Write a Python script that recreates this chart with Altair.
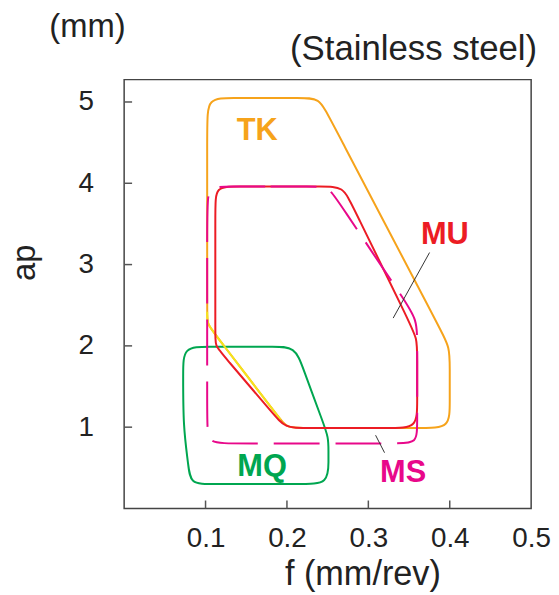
import altair as alt
import pandas as pd

FONT = "Liberation Sans"

# ---- axes ----
X_TICKS = [0.1, 0.2, 0.3, 0.4, 0.5]
Y_TICKS = [1, 2, 3, 4, 5]
X_INNER_TICKS = [0.1, 0.2, 0.3, 0.4]

# ---- outlines (corner vertices with points where the rounding starts/ends) ----
TK_F = [0.17, 0.216, 0.240, 0.251, 0.3887, 0.400, 0.400, 0.400, 0.400, 0.370,
        0.222, 0.200, 0.192, 0.110, 0.102, 0.102, 0.102, 0.102, 0.134, 0.17]
TK_AP = [5.05, 5.05, 5.05, 4.83, 2.20, 1.98, 1.74, 1.30, 0.99, 0.99,
         0.99, 0.99, 1.094, 2.166, 2.27, 2.40, 4.73, 5.05, 5.05, 5.05]

TKY_F = [0.192, 0.110, 0.102, 0.102, 0.102]
TKY_AP = [1.094, 2.166, 2.27, 2.40, 2.42]

MU_F = [0.19, 0.245, 0.269, 0.2797, 0.3504, 0.360, 0.360, 0.360, 0.360, 0.330,
        0.220, 0.198, 0.1837, 0.121, 0.112, 0.112, 0.112, 0.112, 0.138, 0.19]
MU_AP = [3.96, 3.96, 3.96, 3.74, 2.29, 2.09, 1.87, 1.30, 0.99, 0.99,
         0.99, 0.99, 1.157, 1.895, 2.00, 2.12, 3.70, 3.96, 3.96, 3.96]

MS_F = [0.18, 0.229, 0.251, 0.263, 0.343, 0.360, 0.360, 0.360, 0.360, 0.336,
        0.129, 0.102, 0.102, 0.102, 0.102, 0.131, 0.18]
MS_AP = [3.96, 3.96, 3.96, 3.777, 2.58, 2.325, 2.02, 1.04, 0.80, 0.80,
         0.80, 0.80, 1.07, 3.67, 3.96, 3.96, 3.96]

MQ_F = [0.15, 0.183, 0.210, 0.2193, 0.2442, 0.251, 0.251, 0.251, 0.251, 0.220,
        0.1054, 0.081, 0.0789, 0.0725, 0.0725, 0.0725, 0.103, 0.15]
MQ_AP = [1.99, 1.99, 1.99, 1.74, 1.06, 0.88, 0.69, 0.605, 0.30, 0.30,
         0.30, 0.30, 0.544, 1.00, 1.68, 1.99, 1.99, 1.99]

# ---- leader lines ----
LEAD_F = [0.3752, 0.3089]
LEAD_AP = [3.148, 0.901]
LEAD_F2 = [0.3305, 0.3199]
LEAD_AP2 = [2.342, 0.686]

# ---- labels ----
LABELS = ["TK", "MU", "MQ", "MS"]
LABEL_F = [0.1634, 0.394, 0.1695, 0.3427]
LABEL_AP = [4.532, 3.25, 0.40, 0.327]
LABEL_COLORS = ["#F6A31B", "#EC1C24", "#00A650", "#E8088A"]

W, H = 410, 432
xs = alt.Scale(domain=[0, 0.5], nice=False, zero=False)
ys = alt.Scale(domain=[0, 5.275], nice=False, zero=False)

AX = alt.Axis(values=X_TICKS, format=".1f", title="f (mm/rev)", grid=False,
              domain=False, ticks=False, tickSize=0, labelPadding=16,
              labelFontSize=28, labelColor="#222", labelFont=FONT,
              labelFlush=False, labelOverlap=False,
              titleFont=FONT, titleFontSize=34.5, titleFontWeight="normal",
              titleColor="#222", titleX=240, titleY=77, titleAlign="center",
              titleBaseline="alphabetic")
AY = alt.Axis(values=Y_TICKS, format="d", title="ap", grid=False,
              domain=False, ticks=False, tickSize=0, labelPadding=31,
              labelFontSize=28, labelColor="#222", labelFont=FONT,
              labelFlush=False, labelOverlap=False,
              titleFont=FONT, titleFontSize=33, titleFontWeight="normal",
              titleColor="#222", titleAngle=270, titleX=-90, titleY=184,
              titleAlign="center", titleBaseline="alphabetic")


def X(field="f"):
    return alt.X(f"{field}:Q", scale=xs, axis=AX)


def Y(field="ap"):
    return alt.Y(f"{field}:Q", scale=ys, axis=AY)


def outline(fs, aps, color, dash=None, width=2.0):
    df = pd.DataFrame({"f": fs, "ap": aps, "i": list(range(len(fs)))})
    kw = dict(interpolate="basis", color=color, strokeWidth=width)
    if dash:
        kw["strokeDash"] = dash
    return alt.Chart(df).mark_line(**kw).encode(x=X(), y=Y(), order="i:Q")


tk = outline(TK_F, TK_AP, "#F6A31B")
mq = outline(MQ_F, MQ_AP, "#00A650")
tky = outline(TKY_F, TKY_AP, "#F5E41C")
mu = outline(MU_F, MU_AP, "#EC1C24")
ms = outline(MS_F, MS_AP, "#E8088A", dash=[46, 16])

lead = alt.Chart(pd.DataFrame({"f": LEAD_F, "ap": LEAD_AP, "f2": LEAD_F2, "ap2": LEAD_AP2})
                 ).mark_rule(color="#333", strokeWidth=1).encode(
    x=X(), y=Y(), x2="f2:Q", y2="ap2:Q")

labels = alt.Chart(pd.DataFrame({"f": LABEL_F, "ap": LABEL_AP, "t": LABELS, "c": LABEL_COLORS})
                   ).mark_text(font=FONT, fontSize=31, fontWeight="bold",
                               align="center", baseline="alphabetic").encode(
    x=X(), y=Y(), text="t:N", color=alt.Color("c:N", scale=None))

xt = alt.Chart(pd.DataFrame({"f": X_INNER_TICKS})).mark_rule(color="#555", strokeWidth=1.5).encode(
    x=X(), y=alt.value(H), y2=alt.value(H - 8))
yt = alt.Chart(pd.DataFrame({"ap": Y_TICKS})).mark_rule(color="#555", strokeWidth=1.5).encode(
    y=Y(), x=alt.value(0), x2=alt.value(8))

mm = alt.Chart(pd.DataFrame({"t": ["(mm)"]})).mark_text(
    font=FONT, fontSize=33, color="#222", align="center", baseline="alphabetic").encode(
    x=alt.value(-37), y=alt.value(-43), text="t:N")
steel = alt.Chart(pd.DataFrame({"t": ["(Stainless steel)"]})).mark_text(
    font=FONT, fontSize=35, color="#222", align="right", baseline="alphabetic").encode(
    x=alt.value(416), y=alt.value(-20), text="t:N")

chart = alt.layer(tk, mq, tky, mu, ms, lead, labels, xt, yt, mm, steel).properties(
    width=W, height=H,
    autosize=alt.AutoSizeParams(type="none"),
    padding={"left": 117, "top": 70, "right": 20, "bottom": 83},
).configure_view(stroke="#444", strokeWidth=1.5)

chart.save("out.html", embed_options={"renderer": "svg", "actions": False})
